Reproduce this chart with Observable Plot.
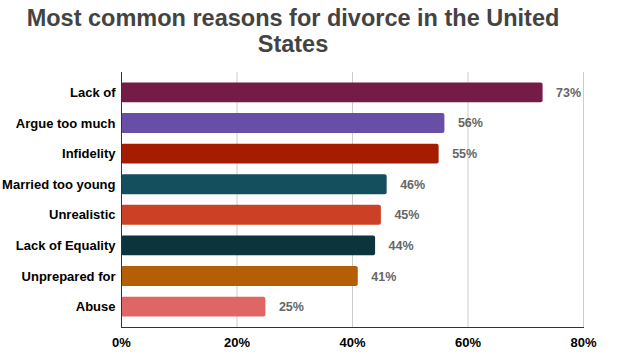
<!DOCTYPE html>
<html>
<head>
<meta charset="utf-8">
<script src="https://cdn.jsdelivr.net/npm/d3@7"></script>
<script src="https://cdn.jsdelivr.net/npm/@observablehq/plot@0.6"></script>
<style>
  html, body { margin: 0; padding: 0; background: #fff; }
  #title { width: 586px; text-align: center; font-family: "Liberation Sans", Arial, sans-serif; font-weight: bold; font-size: 23.5px; color: #434343; line-height: 26px; padding-top: 5px; height: 55px; overflow: hidden; }
  #chart svg { display: block; }
</style>
</head>
<body>
<div id="title">Most common reasons for divorce in the United States</div>
<div id="chart"></div>
<script>
const reasons = ["Lack of", "Argue too much", "Infidelity", "Married too young", "Unrealistic", "Lack of Equality", "Unprepared for", "Abuse"];
const values = [73, 56, 55, 46, 45, 44, 41, 25];
const colors = ["#741b47", "#674ea7", "#a61c00", "#134f5c", "#cc4125", "#0c343d", "#b45f06", "#e06666"];
const xTicks = [0, 20, 40, 60, 80];

const data = reasons.map((r, i) => ({reason: r, value: values[i], color: colors[i]}));

const chart = Plot.plot({
  width: 623,
  height: 296,
  marginTop: 12,
  marginBottom: 29,
  marginLeft: 121,
  marginRight: 40,
  style: {fontFamily: "'Liberation Sans', Arial, sans-serif", fontSize: "13px", fontWeight: "bold", color: "#000"},
  x: {domain: [0, 80], ticks: xTicks, tickFormat: d => d + "%", tickSize: 0, tickPadding: 10, label: null, grid: false},
  y: {domain: reasons, paddingInner: 0.35, paddingOuter: 0.34, round: false, tickSize: 0, tickPadding: 6, label: null},
  marks: [
    Plot.ruleX(xTicks.slice(1), {stroke: "#cccccc", strokeWidth: 1, strokeOpacity: 1}),
    Plot.barX(data, {x: "value", y: "reason", fill: "color", rx: 2}),
    Plot.text(data, {x: "value", y: "reason", text: d => d.value + "%", textAnchor: "start", dx: 13, fill: "#666666", fontWeight: "bold", fontSize: 12.5}),
    Plot.ruleX([0], {stroke: "#333333", strokeWidth: 1}),
    Plot.frame({anchor: "bottom", stroke: "#333333", strokeWidth: 1})
  ]
});
document.getElementById("chart").appendChild(chart);
</script>
</body>
</html>
